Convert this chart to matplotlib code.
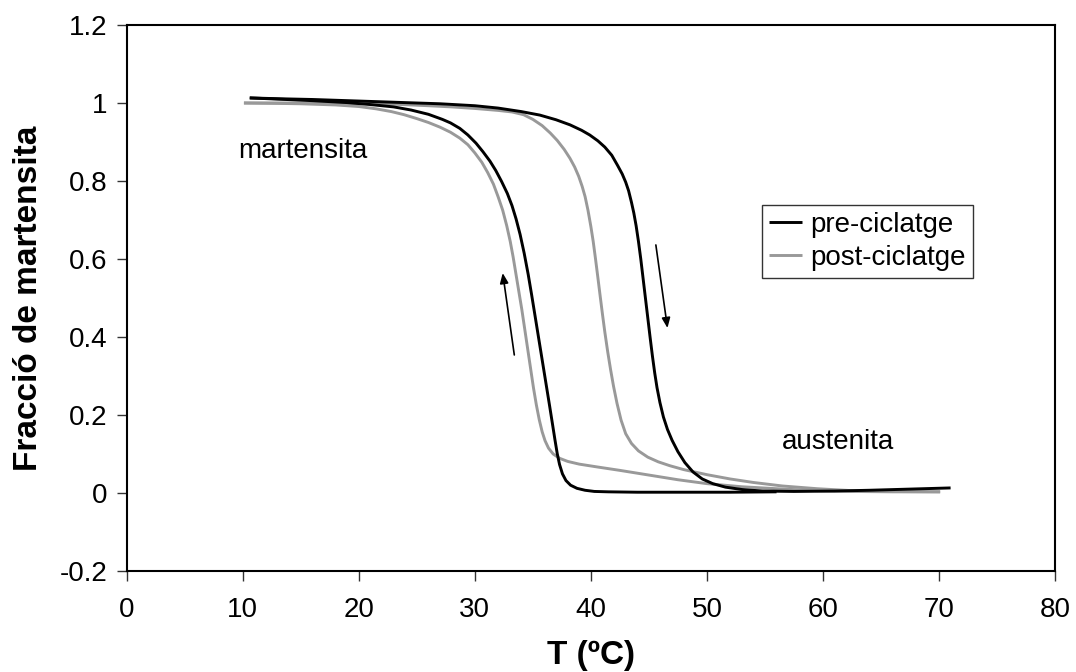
import matplotlib
matplotlib.use("Agg")
import matplotlib.pyplot as plt
from matplotlib.ticker import FuncFormatter

plt.rcParams['font.family'] = ['Liberation Sans', 'DejaVu Sans']

# Pre-cycling loop (temperature in ºC, martensite fraction)
pre_heat_T = [10.6, 13, 16, 20, 24, 27, 30, 32, 34, 35.6, 37, 38.2, 39.2, 39.9, 40.6,
              41.2, 41.8, 42.3, 42.7, 43.0, 43.25, 43.5, 43.7, 43.9, 44.1, 44.3, 44.5,
              44.7, 44.9, 45.1, 45.3, 45.5, 45.7, 45.95, 46.25, 46.6, 47.0, 47.5, 48.1,
              48.8, 49.6, 50.5, 51.6, 53.0, 54.8, 57.5, 61, 64, 67.5, 71]
pre_heat_f = [1.013, 1.011, 1.009, 1.005, 1.001, 0.998, 0.993, 0.987, 0.978, 0.969,
              0.957, 0.944, 0.930, 0.918, 0.903, 0.887, 0.866, 0.840, 0.818, 0.797,
              0.775, 0.745, 0.718, 0.685, 0.645, 0.60, 0.55, 0.50, 0.45, 0.40, 0.352,
              0.308, 0.27, 0.232, 0.195, 0.163, 0.135, 0.106, 0.078, 0.054, 0.036,
              0.024, 0.015, 0.009, 0.005, 0.004, 0.005, 0.007, 0.010, 0.013]

pre_cool_T = [10.6, 13, 16, 19, 21, 23, 24.5, 26, 27.2, 27.9, 28.7, 29.4, 30.1, 30.7,
              31.3, 31.8, 32.3, 32.8, 33.2, 33.55, 33.9, 34.25, 34.6, 34.9, 35.2, 35.45,
              35.7, 35.95, 36.2, 36.45, 36.7, 36.9, 37.1, 37.3, 37.55, 37.85, 38.25,
              38.8, 39.5, 40.3, 41.5, 44, 48, 52, 56]
pre_cool_f = [1.013, 1.010, 1.006, 1.001, 0.996, 0.990, 0.982, 0.971, 0.958, 0.949,
              0.935, 0.918, 0.897, 0.875, 0.851, 0.827, 0.799, 0.768, 0.737, 0.703,
              0.663, 0.615, 0.56, 0.507, 0.452, 0.406, 0.36, 0.314, 0.268, 0.222,
              0.175, 0.137, 0.101, 0.073, 0.049, 0.032, 0.02, 0.012, 0.007, 0.004,
              0.003, 0.002, 0.002, 0.002, 0.003]

# Post-cycling loop
post_heat_T = [10.1, 13, 16, 20, 23, 26, 28, 30, 32, 33.2, 34.2, 35.0, 35.8, 36.5,
               37.1, 37.7, 38.2, 38.6, 38.95, 39.25, 39.5, 39.75, 40.0, 40.2, 40.4, 40.6,
               40.8, 41.0, 41.2, 41.45, 41.7, 41.95, 42.25, 42.6, 43.0, 43.5, 44.1, 44.9,
               45.8, 46.8, 48, 50, 52, 54, 56.5, 59.5, 62.5, 65.2, 70.1]
post_heat_f = [1.0, 1.0, 1.0, 0.999, 0.997, 0.993, 0.990, 0.986, 0.981, 0.977, 0.970,
               0.958, 0.942, 0.923, 0.904, 0.881, 0.858, 0.836, 0.812, 0.786, 0.76,
               0.725, 0.683, 0.645, 0.60, 0.553, 0.505, 0.458, 0.413, 0.362, 0.316,
               0.274, 0.23, 0.187, 0.152, 0.127, 0.108, 0.092, 0.080, 0.070, 0.060,
               0.047, 0.036, 0.027, 0.018, 0.011, 0.006, 0.004, 0.003]

post_cool_T = [10.1, 13, 15, 18, 20, 21.5, 22.8, 23.9, 25, 26, 27, 27.9, 28.7, 29.4,
               30.0, 30.6, 31.1, 31.6, 32.0, 32.4, 32.75, 33.05, 33.3, 33.55, 33.8,
               34.05, 34.3, 34.55, 34.8, 35.05, 35.3, 35.55, 35.8, 36.05, 36.35, 36.75,
               37.3, 38.0, 39, 40.5, 42.5, 45, 47.5, 50, 53, 56.6, 59.5, 62.4, 66, 70.1]
post_cool_f = [1.0, 0.999, 0.998, 0.995, 0.991, 0.985, 0.978, 0.970, 0.96, 0.95, 0.938,
               0.925, 0.91, 0.893, 0.872, 0.848, 0.822, 0.792, 0.76, 0.725, 0.685,
               0.645, 0.605, 0.56, 0.515, 0.47, 0.42, 0.37, 0.32, 0.27, 0.226, 0.188,
               0.157, 0.134, 0.115, 0.100, 0.089, 0.081, 0.074, 0.067, 0.058, 0.046,
               0.034, 0.024, 0.016, 0.010, 0.006, 0.004, 0.003, 0.003]

series_labels = ['pre-ciclatge', 'post-ciclatge']
x_ticks = [0, 10, 20, 30, 40, 50, 60, 70, 80]
y_ticks = [-0.2, 0, 0.2, 0.4, 0.6, 0.8, 1, 1.2]

BLACK = '#000000'
GRAY = '#999999'
FS = 20
LW = 2.1

fig = plt.figure(figsize=(10.76, 6.72), dpi=100)
ax = fig.add_axes([0.1178, 0.1503, 0.8627, 0.8125])

line_kw = dict(lw=LW, solid_joinstyle='round', solid_capstyle='butt')
ax.plot(post_heat_T, post_heat_f, color=GRAY, zorder=2, label=series_labels[1], **line_kw)
ax.plot(post_cool_T, post_cool_f, color=GRAY, zorder=2, **line_kw)
ax.plot(pre_heat_T, pre_heat_f, color=BLACK, zorder=3, label=series_labels[0], **line_kw)
ax.plot(pre_cool_T, pre_cool_f, color=BLACK, zorder=3, **line_kw)

ax.set_xlim(0, 80)
ax.set_ylim(-0.2, 1.2)
ax.set_xticks(x_ticks)
ax.set_yticks(y_ticks)
ax.yaxis.set_major_formatter(FuncFormatter(lambda v, p: '%g' % round(v, 2)))
ax.tick_params(direction='out', length=7, width=1, labelsize=FS, pad=7, color='#333333')
ax.tick_params(axis='x', pad=12)
for s in ax.spines.values():
    s.set_linewidth(1.5)
    s.set_color('black')

ax.set_xlabel('T (ºC)', fontsize=24, fontweight='bold')
ax.set_ylabel('Fracció de martensita', fontsize=24, fontweight='bold')
ax.xaxis.set_label_coords(0.5, -0.126)
ax.yaxis.set_label_coords(-0.089, 0.5)

ax.text(9.6, 0.877, 'martensita', fontsize=FS, ha='left', va='center')
ax.text(56.5, 0.132, 'austenita', fontsize=FS, ha='left', va='center')

arrow_kw = dict(arrowstyle='-|>,head_length=0.6,head_width=0.25', color='black', lw=1.2,
                shrinkA=0, shrinkB=0)
ax.annotate('', xy=(32.4, 0.564), xytext=(33.4, 0.354), arrowprops=arrow_kw)
ax.annotate('', xy=(46.6, 0.423), xytext=(45.6, 0.636), arrowprops=arrow_kw)

handles, labels = ax.get_legend_handles_labels()
leg = ax.legend(handles[::-1], labels[::-1], loc='upper left', bbox_to_anchor=(0.684, 0.670),
                fontsize=FS, frameon=True, fancybox=False, handlelength=1.2,
                handletextpad=0.3, borderpad=0.25, labelspacing=0.25, borderaxespad=0)
leg.get_frame().set_edgecolor('black')
leg.get_frame().set_linewidth(1.0)

fig.savefig('out.png', dpi=100)
